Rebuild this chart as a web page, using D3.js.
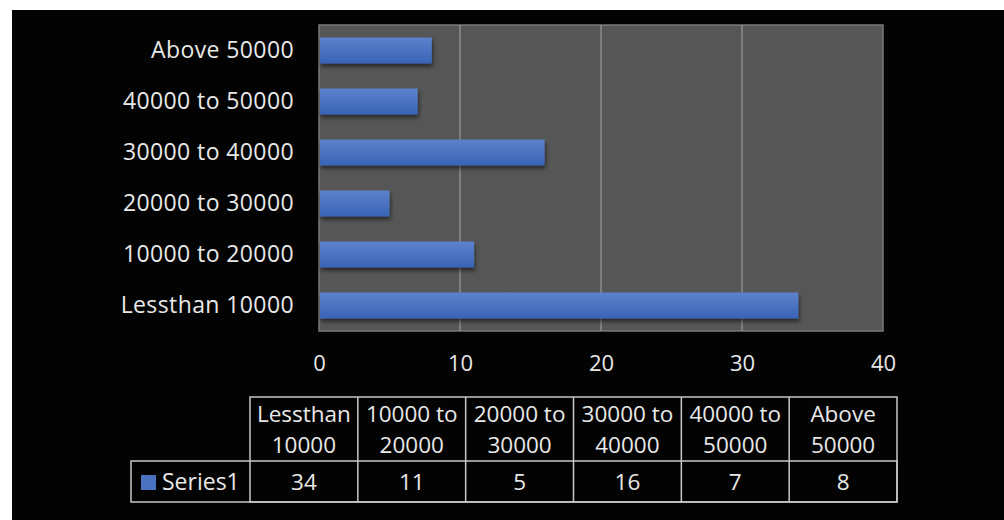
<!DOCTYPE html>
<html><head><meta charset="utf-8">
<script src="https://cdn.jsdelivr.net/npm/d3@7"></script>
<style>
html,body{margin:0;padding:0;background:#fff;}
svg{display:block;}
</style></head>
<body>
<svg id="chart" width="1004" height="520"></svg>
<script>
const categories = ["Lessthan 10000","10000 to 20000","20000 to 30000","30000 to 40000","40000 to 50000","Above 50000"];
const headerLines = [["Lessthan","10000"],["10000 to","20000"],["20000 to","30000"],["30000 to","40000"],["40000 to","50000"],["Above","50000"]];
const seriesName = "Series1";
const values = [34, 11, 5, 16, 7, 8];
const xTicks = [0, 10, 20, 30, 40];

const FONT = "'Open Sans', sans-serif";
const TXT = "#e8e8e8";
const svg = d3.select("#chart");

// background
svg.append("rect").attr("x",12).attr("y",10).attr("width",992).attr("height",510).attr("fill","#030303");

const plot = {l:319, r:883, t:25, b:331};
const x = d3.scaleLinear().domain([0,40]).range([plot.l, plot.r]);
const y = d3.scaleBand().domain(categories.slice().reverse()).range([plot.t, plot.b]).paddingInner(0.49).paddingOuter(0.245);

const defs = svg.append("defs");
const g = defs.append("linearGradient").attr("id","barGrad").attr("x1",0).attr("y1",0).attr("x2",0).attr("y2",1);
g.append("stop").attr("offset","0%").attr("stop-color","#5d82cc");
g.append("stop").attr("offset","100%").attr("stop-color","#3963b5");
const sh = defs.append("filter").attr("id","shadow").attr("x","-5%").attr("y","-20%").attr("width","115%").attr("height","160%");
sh.append("feDropShadow").attr("dx",1).attr("dy",3).attr("stdDeviation",2).attr("flood-color","#000").attr("flood-opacity",0.55);

// plot area
svg.append("rect").attr("x",plot.l).attr("y",plot.t).attr("width",plot.r-plot.l).attr("height",plot.b-plot.t)
  .attr("fill","#555655").attr("stroke","#7a7a7a").attr("stroke-width",1.5);

// gridlines
svg.append("g").selectAll("line").data(xTicks.filter(d=>d>0 && d<40)).join("line")
  .attr("x1",d=>x(d)).attr("x2",d=>x(d)).attr("y1",plot.t).attr("y2",plot.b)
  .attr("stroke","#9a9a9a").attr("stroke-width",1.2);

// bars
svg.append("g").selectAll("rect").data(categories).join("rect")
  .attr("x",x(0)+1).attr("y",d=>y(d)).attr("height",y.bandwidth())
  .attr("width",(d,i)=>x(values[i])-x(0)-1)
  .attr("fill","url(#barGrad)").attr("filter","url(#shadow)");

// x axis labels
const xAxis = d3.axisBottom(x).tickValues(xTicks).tickSize(0).tickPadding(0);
const xa = svg.append("g").attr("transform",`translate(0,363)`).call(xAxis);
xa.select(".domain").remove();
xa.selectAll("text").attr("fill",TXT).style("font-family",FONT).style("font-size","22px").attr("dy","0.35em");

// y axis labels
const yAxis = d3.axisLeft(y).tickSize(0).tickPadding(0);
const ya = svg.append("g").attr("transform",`translate(${plot.l-25},0)`).call(yAxis);
ya.select(".domain").remove();
ya.selectAll("text").attr("fill",TXT).style("font-family",FONT).style("font-size","23px").style("letter-spacing","0.4px");

// data table
const colX = d3.scaleBand().domain(categories).range([250, 897]);
const tbl = {t:397, mid:461, b:502, legL:131};
const tg = svg.append("g").attr("fill","none").attr("stroke","#c8c8c8").attr("stroke-width",1.5);
tg.append("rect").attr("x",colX.range()[0]).attr("y",tbl.t).attr("width",colX.range()[1]-colX.range()[0]).attr("height",tbl.b-tbl.t);
tg.append("rect").attr("x",tbl.legL).attr("y",tbl.mid).attr("width",colX.range()[1]-tbl.legL).attr("height",tbl.b-tbl.mid);
tg.selectAll("line.c").data(categories.slice(1)).join("line")
  .attr("x1",d=>colX(d)).attr("x2",d=>colX(d)).attr("y1",tbl.t).attr("y2",tbl.b);

const hdr = svg.append("g").style("font-family",FONT).style("font-size","22.5px").attr("fill",TXT).attr("text-anchor","middle");
categories.forEach((c,i)=>{
  headerLines[i].forEach((ln,j)=>{
    hdr.append("text").attr("x",colX(c)+colX.bandwidth()/2).attr("y",414+j*31).attr("dy","0.35em").text(ln);
  });
  hdr.append("text").attr("x",colX(c)+colX.bandwidth()/2).attr("y",482).attr("dy","0.35em").text(values[i]);
});
svg.append("rect").attr("x",141).attr("y",475).attr("width",15).attr("height",15).attr("fill","#4a72c0");
svg.append("text").attr("x",162).attr("y",482).attr("dy","0.35em").style("font-family",FONT).style("font-size","23px").attr("fill",TXT).text(seriesName);
</script>
</body></html>
